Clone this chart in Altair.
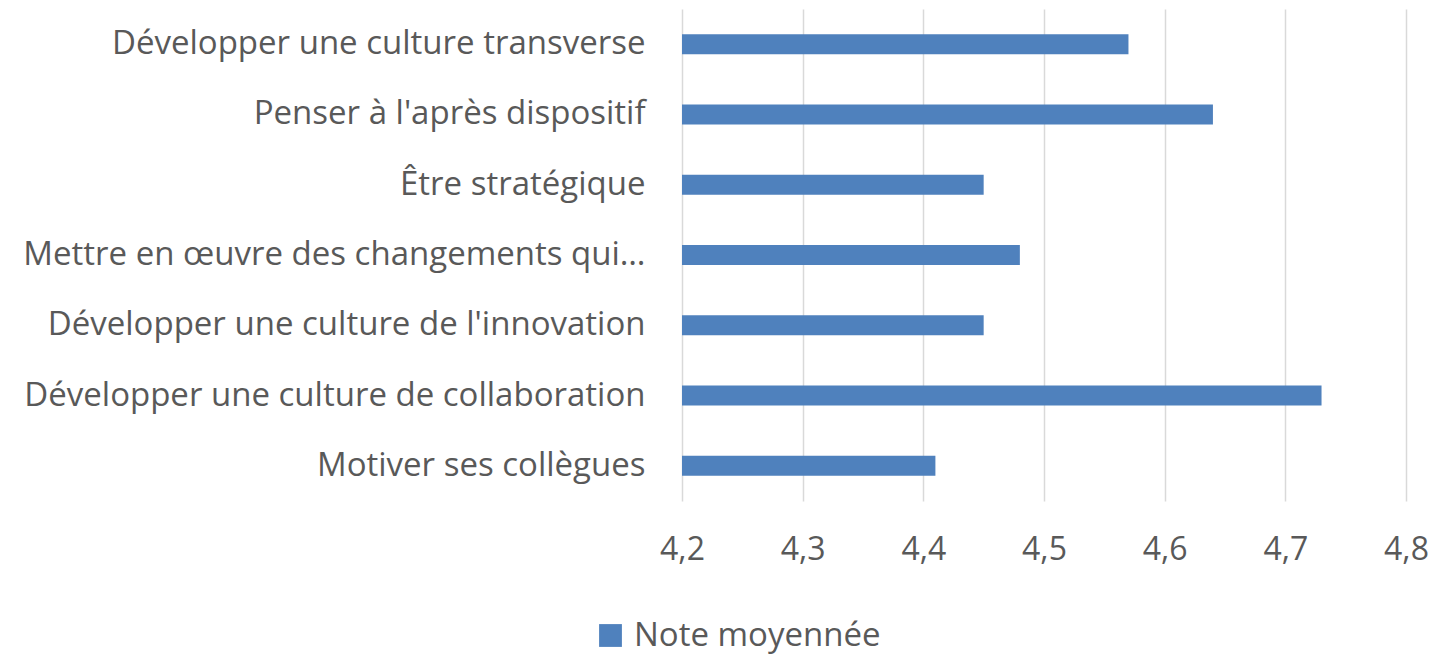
import altair as alt
import pandas as pd

categories = [
    "Développer une culture transverse",
    "Penser à l'après dispositif",
    "Être stratégique",
    "Mettre en œuvre des changements qui…",
    "Développer une culture de l'innovation",
    "Développer une culture de collaboration",
    "Motiver ses collègues",
]
values = [4.57, 4.64, 4.45, 4.48, 4.45, 4.73, 4.41]
series = ["Note moyennée"] * len(categories)
x_ticks = [4.2, 4.3, 4.4, 4.5, 4.6, 4.7, 4.8]

df = pd.DataFrame({"cat": categories, "val": values, "serie": series})

FONT = "Open Sans"
GREY = "#595959"
BAR = "#4f81bd"

chart = (
    alt.Chart(df)
    .mark_bar(size=20, clip=True)
    .encode(
        y=alt.Y(
            "cat:N",
            sort=categories,
            title=None,
            axis=alt.Axis(
                domain=False,
                ticks=False,
                labelFont=FONT,
                labelFontSize=33,
                labelColor=GREY,
                labelPadding=37,
                labelLimit=800,
                grid=False,
            ),
        ),
        x=alt.X(
            "val:Q",
            title=None,
            scale=alt.Scale(domain=[4.2, 4.8], nice=False, zero=False),
            axis=alt.Axis(
                values=x_ticks,
                labelExpr="replace(format(datum.value, '.1f'), '.', ',')",
                labelFlush=False,
                domain=False,
                ticks=False,
                grid=True,
                gridColor="#d9d9d9",
                gridWidth=1.5,
                labelFont=FONT,
                labelFontSize=32,
                labelColor=GREY,
                labelPadding=33,
            ),
        ),
        color=alt.Color(
            "serie:N",
            scale=alt.Scale(range=[BAR]),
            legend=alt.Legend(
                title=None,
                orient="none",
                legendX=-88,
                legendY=610,
                symbolType="square",
                symbolSize=520,
                symbolStrokeWidth=0,
                labelFont=FONT,
                labelFontSize=33,
                labelColor=GREY,
                labelOffset=7,
                labelLimit=400,
            ),
        ),
    )
    .properties(
        width=724,
        height=492,
        autosize=alt.AutoSizeParams(type="none"),
        padding={"left": 674, "top": 1, "right": 29, "bottom": 160},
    )
    .configure_view(stroke=None)
)

chart.save("out.html", embed_options={"renderer": "svg", "actions": False})
